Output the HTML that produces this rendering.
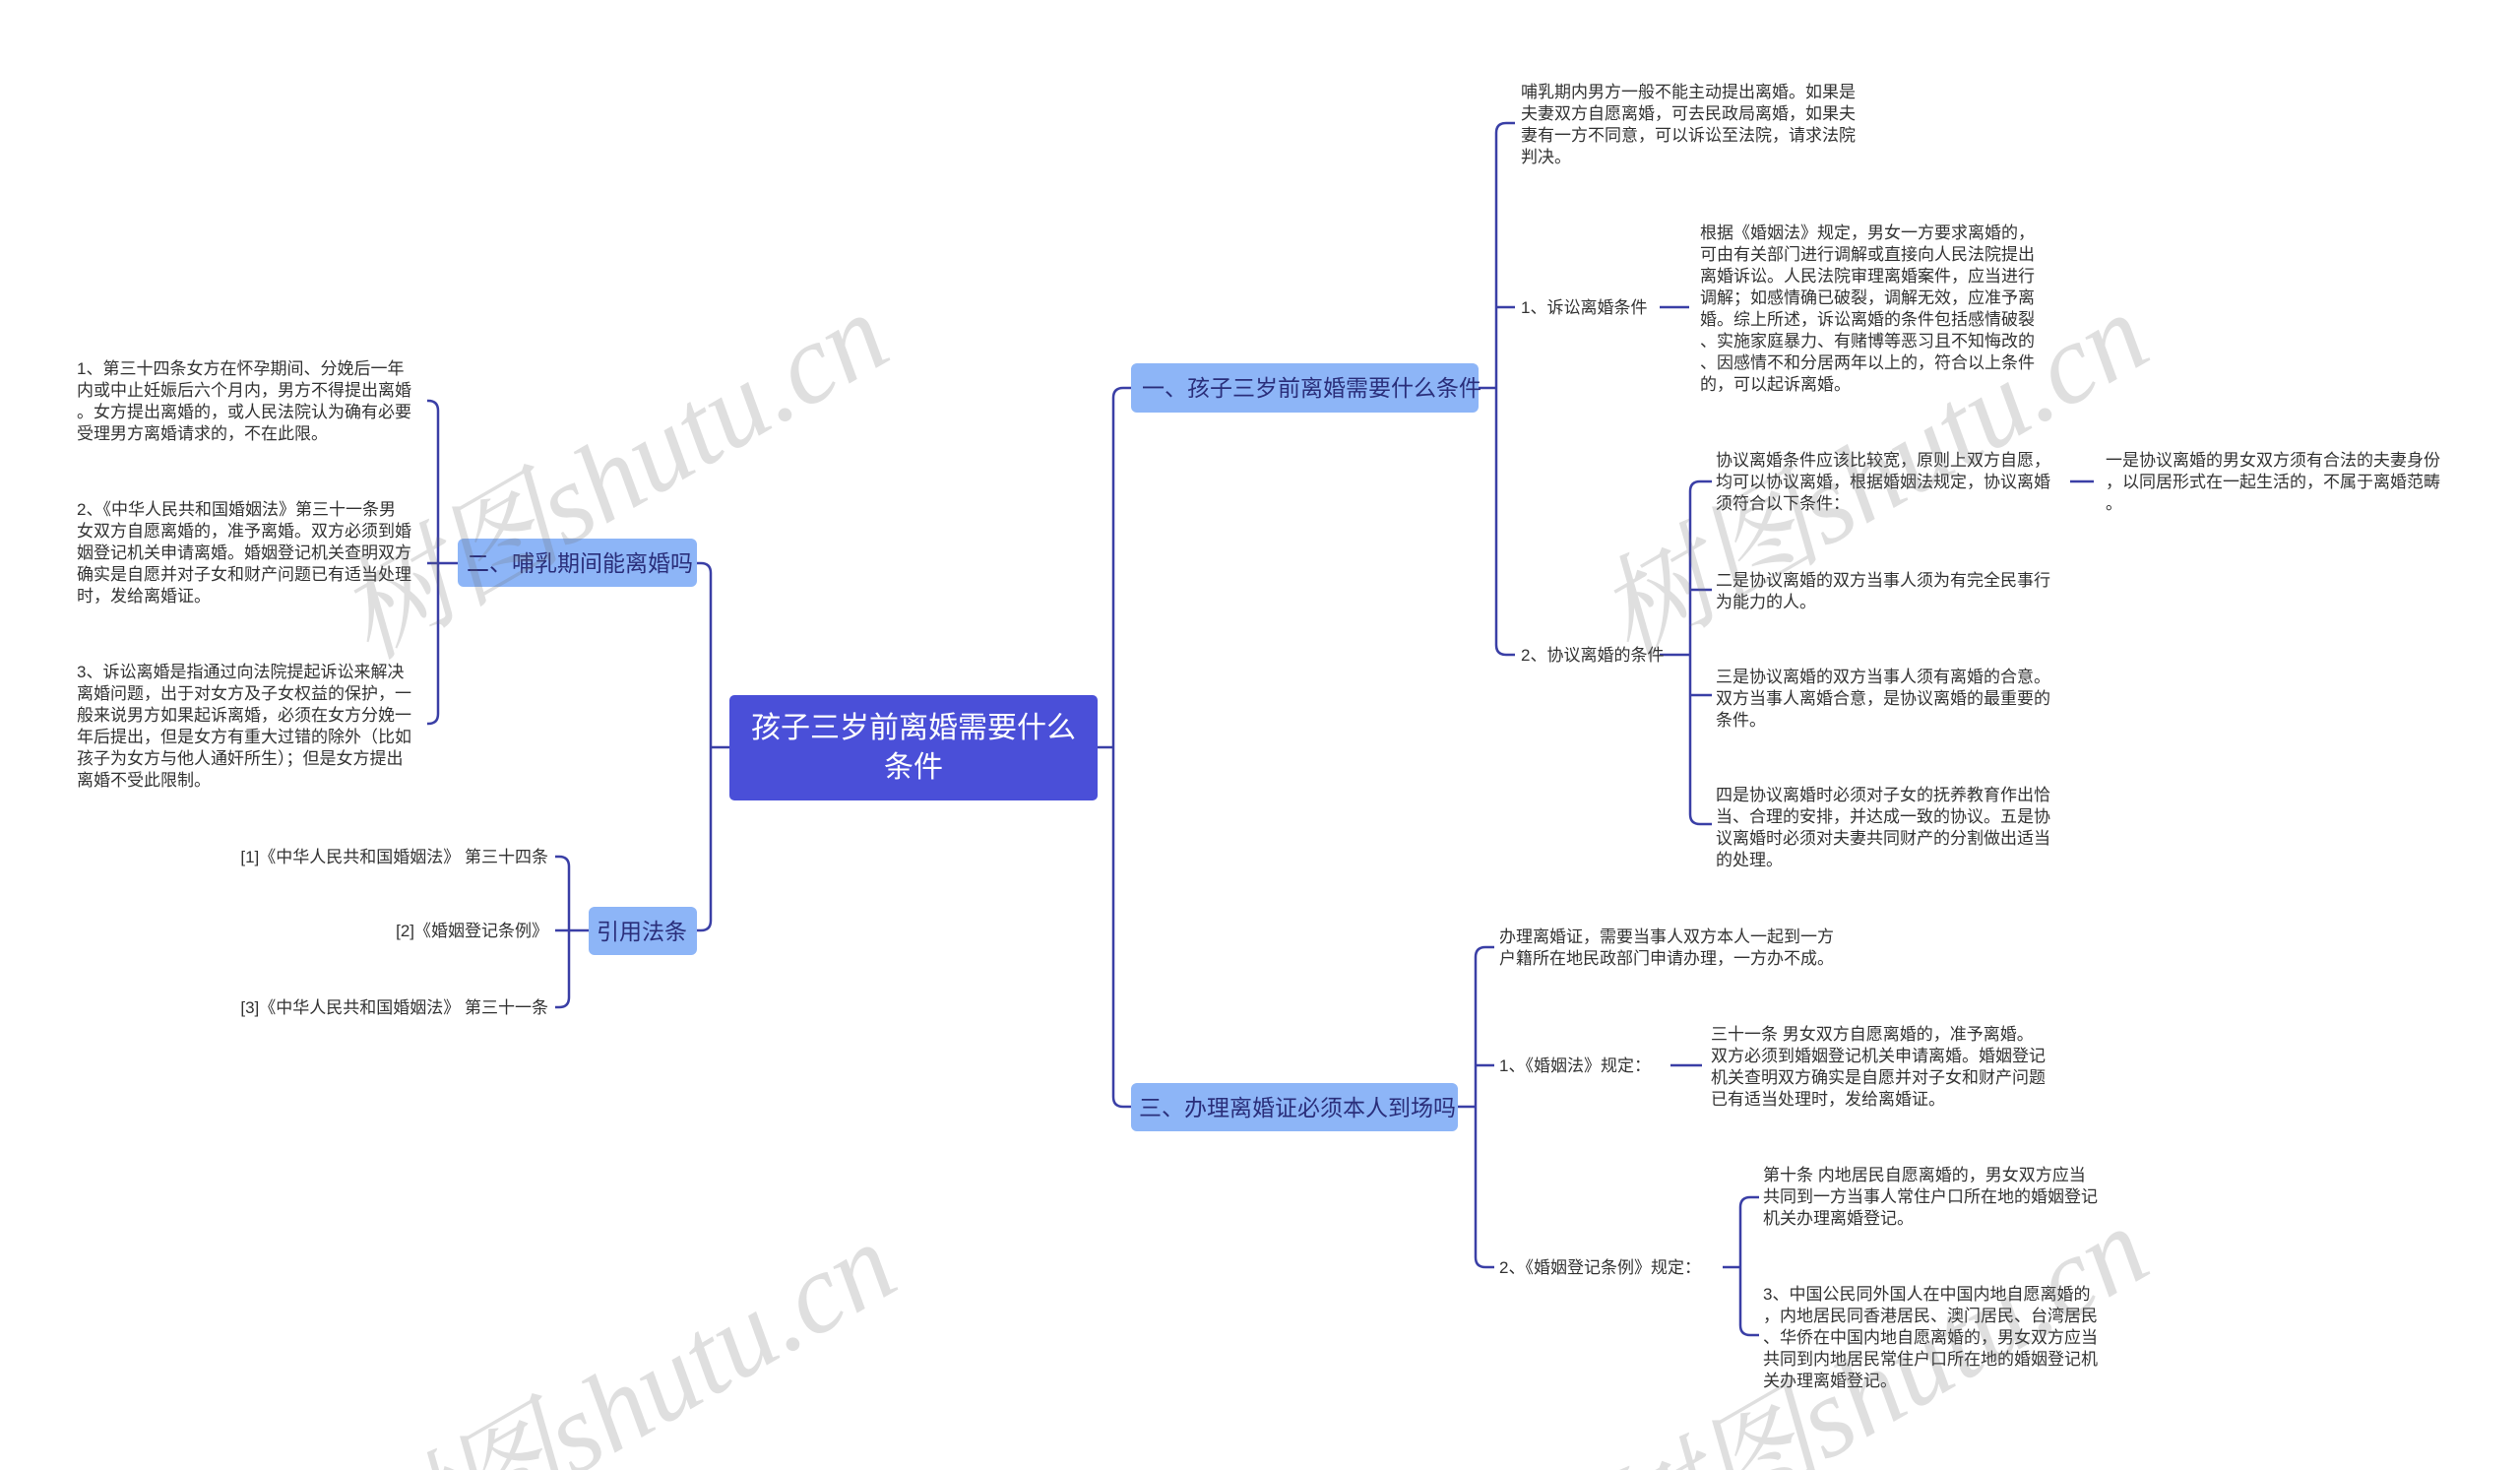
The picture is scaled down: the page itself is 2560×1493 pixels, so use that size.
<!DOCTYPE html>
<html><head><meta charset="utf-8"><style>
html,body{margin:0;padding:0;background:#fff;width:2560px;height:1493px;overflow:hidden;}
svg{display:block;}
.l{font-family:"Liberation Sans","Noto Sans CJK SC",sans-serif;font-size:17px;fill:#333;}
.b{font-family:"Liberation Sans","Noto Sans CJK SC",sans-serif;font-size:23px;fill:#2a2e7a;}
.r{font-family:"Liberation Sans","Noto Sans CJK SC",sans-serif;font-size:30px;fill:#fff;}
.w{font-family:"Liberation Serif","Noto Serif CJK SC",serif;font-size:115px;font-style:italic;fill:rgba(110,110,110,0.22);}
path{fill:none;stroke:#3a3fa6;stroke-width:2.5;}
</style></head><body>
<svg width="2560" height="1493" viewBox="0 0 2560 1493" xmlns="http://www.w3.org/2000/svg">
<g transform="translate(-6,-3)">
<!-- connectors -->
<path d="M1121 762 H1137"/>
<path d="M1155 397 H1147 Q1137 397 1137 407 V1117 Q1137 1127 1147 1127 H1155"/>
<path d="M747 762 H728"/>
<path d="M714 575 H718 Q728 575 728 585 V938 Q728 948 718 948 H714"/>
<path d="M1508 397 H1526"/>
<path d="M1545 128 H1536 Q1526 128 1526 138 V658 Q1526 668 1536 668 H1545"/>
<path d="M1526 315 H1545"/>
<path d="M1692 315 H1722"/>
<path d="M1692 668 H1723"/>
<path d="M1745 492 H1733 Q1723 492 1723 502 V830 Q1723 840 1733 840 H1745"/>
<path d="M1723 602 H1745"/><path d="M1723 709 H1745"/>
<path d="M2109 492 H2133"/>
<path d="M1487 1127 H1505"/>
<path d="M1524 965 H1515 Q1505 965 1505 975 V1280 Q1505 1290 1515 1290 H1524"/>
<path d="M1505 1085 H1524"/>
<path d="M1703 1085 H1735"/>
<path d="M1756 1290 H1774"/>
<path d="M1793 1219 H1784 Q1774 1219 1774 1229 V1349 Q1774 1359 1784 1359 H1793"/>
<path d="M471 575 H451"/>
<path d="M440 410 H441 Q451 410 451 420 V728 Q451 738 441 738 H440"/>
<path d="M451 575 H440"/>
<path d="M604 948 H584"/>
<path d="M570 873 H574 Q584 873 584 883 V1016 Q584 1026 574 1026 H570"/>
<path d="M584 948 H570"/>

<!-- root -->
<rect x="747" y="709" width="374" height="107" rx="5" fill="#4a4fd8"/>
<text class="r" x="934" y="752" text-anchor="middle">孩子三岁前离婚需要什么</text>
<text class="r" x="934" y="792" text-anchor="middle">条件</text>

<!-- branches -->
<rect x="1155" y="372" width="353" height="50" rx="6" fill="#8db5f7"/>
<text class="b" x="1166" y="405">一、孩子三岁前离婚需要什么条件</text>
<rect x="471" y="550" width="243" height="49" rx="6" fill="#8db5f7"/>
<text class="b" x="480" y="583">二、哺乳期间能离婚吗</text>
<rect x="604" y="924" width="110" height="49" rx="6" fill="#8db5f7"/>
<text class="b" x="612" y="957">引用法条</text>
<rect x="1155" y="1103" width="332" height="49" rx="6" fill="#8db5f7"/>
<text class="b" x="1163" y="1136">三、办理离婚证必须本人到场吗</text>

<!-- right leaves -->
<text class="l" x="1551" y="102"><tspan x="1551">哺乳期内男方一般不能主动提出离婚。如果是</tspan><tspan x="1551" dy="22">夫妻双方自愿离婚，可去民政局离婚，如果夫</tspan><tspan x="1551" dy="22">妻有一方不同意，可以诉讼至法院，请求法院</tspan><tspan x="1551" dy="22">判决。</tspan></text>
<text class="l" x="1551" y="321">1、诉讼离婚条件</text>
<text class="l" x="1733" y="245"><tspan x="1733">根据《婚姻法》规定，男女一方要求离婚的，</tspan><tspan x="1733" dy="22">可由有关部门进行调解或直接向人民法院提出</tspan><tspan x="1733" dy="22">离婚诉讼。人民法院审理离婚案件，应当进行</tspan><tspan x="1733" dy="22">调解；如感情确已破裂，调解无效，应准予离</tspan><tspan x="1733" dy="22">婚。综上所述，诉讼离婚的条件包括感情破裂</tspan><tspan x="1733" dy="22">、实施家庭暴力、有赌博等恶习且不知悔改的</tspan><tspan x="1733" dy="22">、因感情不和分居两年以上的，符合以上条件</tspan><tspan x="1733" dy="22">的，可以起诉离婚。</tspan></text>
<text class="l" x="1551" y="674">2、协议离婚的条件</text>
<text class="l" x="1749" y="476"><tspan x="1749">协议离婚条件应该比较宽，原则上双方自愿，</tspan><tspan x="1749" dy="22">均可以协议离婚，根据婚姻法规定，协议离婚</tspan><tspan x="1749" dy="22">须符合以下条件：</tspan></text>
<text class="l" x="2145" y="476"><tspan x="2145">一是协议离婚的男女双方须有合法的夫妻身份</tspan><tspan x="2145" dy="22">，以同居形式在一起生活的，不属于离婚范畴</tspan><tspan x="2145" dy="22">。</tspan></text>
<text class="l" x="1749" y="598"><tspan x="1749">二是协议离婚的双方当事人须为有完全民事行</tspan><tspan x="1749" dy="22">为能力的人。</tspan></text>
<text class="l" x="1749" y="696"><tspan x="1749">三是协议离婚的双方当事人须有离婚的合意。</tspan><tspan x="1749" dy="22">双方当事人离婚合意，是协议离婚的最重要的</tspan><tspan x="1749" dy="22">条件。</tspan></text>
<text class="l" x="1749" y="816"><tspan x="1749">四是协议离婚时必须对子女的抚养教育作出恰</tspan><tspan x="1749" dy="22">当、合理的安排，并达成一致的协议。五是协</tspan><tspan x="1749" dy="22">议离婚时必须对夫妻共同财产的分割做出适当</tspan><tspan x="1749" dy="22">的处理。</tspan></text>

<text class="l" x="1529" y="960"><tspan x="1529">办理离婚证，需要当事人双方本人一起到一方</tspan><tspan x="1529" dy="22">户籍所在地民政部门申请办理，一方办不成。</tspan></text>
<text class="l" x="1529" y="1091">1、《婚姻法》规定：</text>
<text class="l" x="1744" y="1059"><tspan x="1744">三十一条 男女双方自愿离婚的，准予离婚。</tspan><tspan x="1744" dy="22">双方必须到婚姻登记机关申请离婚。婚姻登记</tspan><tspan x="1744" dy="22">机关查明双方确实是自愿并对子女和财产问题</tspan><tspan x="1744" dy="22">已有适当处理时，发给离婚证。</tspan></text>
<text class="l" x="1529" y="1296">2、《婚姻登记条例》规定：</text>
<text class="l" x="1797" y="1202"><tspan x="1797">第十条 内地居民自愿离婚的，男女双方应当</tspan><tspan x="1797" dy="22">共同到一方当事人常住户口所在地的婚姻登记</tspan><tspan x="1797" dy="22">机关办理离婚登记。</tspan></text>
<text class="l" x="1797" y="1323"><tspan x="1797">3、中国公民同外国人在中国内地自愿离婚的</tspan><tspan x="1797" dy="22">，内地居民同香港居民、澳门居民、台湾居民</tspan><tspan x="1797" dy="22">、华侨在中国内地自愿离婚的，男女双方应当</tspan><tspan x="1797" dy="22">共同到内地居民常住户口所在地的婚姻登记机</tspan><tspan x="1797" dy="22">关办理离婚登记。</tspan></text>

<!-- left leaves -->
<text class="l" x="84" y="383"><tspan x="84">1、第三十四条女方在怀孕期间、分娩后一年</tspan><tspan x="84" dy="22">内或中止妊娠后六个月内，男方不得提出离婚</tspan><tspan x="84" dy="22">。女方提出离婚的，或人民法院认为确有必要</tspan><tspan x="84" dy="22">受理男方离婚请求的，不在此限。</tspan></text>
<text class="l" x="84" y="526"><tspan x="84">2、《中华人民共和国婚姻法》第三十一条男</tspan><tspan x="84" dy="22">女双方自愿离婚的，准予离婚。双方必须到婚</tspan><tspan x="84" dy="22">姻登记机关申请离婚。婚姻登记机关查明双方</tspan><tspan x="84" dy="22">确实是自愿并对子女和财产问题已有适当处理</tspan><tspan x="84" dy="22">时，发给离婚证。</tspan></text>
<text class="l" x="84" y="691"><tspan x="84">3、诉讼离婚是指通过向法院提起诉讼来解决</tspan><tspan x="84" dy="22">离婚问题，出于对女方及子女权益的保护，一</tspan><tspan x="84" dy="22">般来说男方如果起诉离婚，必须在女方分娩一</tspan><tspan x="84" dy="22">年后提出，但是女方有重大过错的除外（比如</tspan><tspan x="84" dy="22">孩子为女方与他人通奸所生）；但是女方提出</tspan><tspan x="84" dy="22">离婚不受此限制。</tspan></text>
<text class="l" x="563" y="879" text-anchor="end">[1]《中华人民共和国婚姻法》 第三十四条</text>
<text class="l" x="563" y="954" text-anchor="end">[2]《婚姻登记条例》</text>
<text class="l" x="563" y="1032" text-anchor="end">[3]《中华人民共和国婚姻法》 第三十一条</text>

<!-- watermarks -->
<text class="w" transform="translate(648,520) rotate(-30)" text-anchor="middle">树图shutu.cn</text>
<text class="w" transform="translate(1928,520) rotate(-30)" text-anchor="middle">树图shutu.cn</text>
<text class="w" transform="translate(656,1464) rotate(-30)" text-anchor="middle">树图shutu.cn</text>
<text class="w" transform="translate(1928,1448) rotate(-30)" text-anchor="middle">树图shutu.cn</text>
</g>
</svg>
</body></html>
